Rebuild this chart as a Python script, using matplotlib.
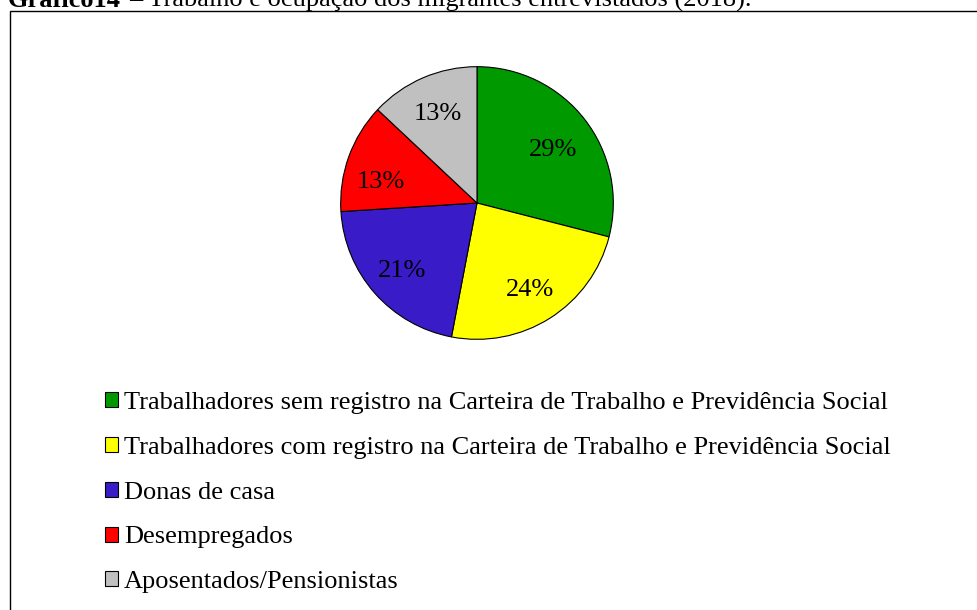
import matplotlib
matplotlib.use("Agg")
import matplotlib.pyplot as plt
import numpy as np
from matplotlib.patches import Rectangle

categories = [
    "Trabalhadores sem registro na Carteira de Trabalho e Previdência Social",
    "Trabalhadores com registro na Carteira de Trabalho e Previdência Social",
    "Donas de casa",
    "Desempregados",
    "Aposentados/Pensionistas",
]
values = [29, 24, 21, 13, 13]
colors = ["#009900", "#FFFF00", "#3A1BC8", "#FF0000", "#C0C0C0"]
title_bold = "Gráfico14"
title_rest = "– Trabalho e ocupação dos migrantes entrevistados (2018)."

# label placement style (radial distance, angular nudge in degrees)
label_r = [0.69, 0.73, 0.73, 0.73, 0.73]
label_dang = [-2, 0, 0, 6, 0]

W, H = 978, 610
plt.rcParams['font.family'] = ['Liberation Serif', 'DejaVu Serif']
fig = plt.figure(figsize=(W / 100, H / 100), dpi=100)

# frame
frame = Rectangle((9.5 / W, -0.1), 1.2, 1 - 11.5 / H + 0.1, transform=fig.transFigure,
                  fill=False, edgecolor="black", linewidth=1.0)
fig.patches.append(frame)

# title (partially clipped at top, as in the reference)
fig.text(8 / W, 1 - 7 / H, title_bold, fontsize=19, fontweight="bold", va="baseline", ha="left")
fig.text(129 / W, 1 - 7 / H, title_rest, fontsize=19, va="baseline", ha="left")

# pie
cx, cy, r = 477, 203, 137
ax = fig.add_axes([(cx - r) / W, (H - cy - r) / H, 2 * r / W, 2 * r / H])
wedges, texts, autotexts = ax.pie(values, colors=colors, startangle=90, counterclock=False,
                                  autopct='%.0f%%', pctdistance=0.73,
                                  wedgeprops=dict(edgecolor="black", linewidth=0.8),
                                  textprops=dict(fontsize=19, color="black"))
for w, t, lr, da in zip(wedges, autotexts, label_r, label_dang):
    mid = np.deg2rad((w.theta1 + w.theta2) / 2 + da)
    t.set_position((lr * np.cos(mid), lr * np.sin(mid)))
    t.set_va("center_baseline")
ax.set_xlim(-1.005, 1.005)
ax.set_ylim(-1.005, 1.005)
ax.set_aspect("equal")

# legend
leg = fig.legend(wedges, categories, loc="upper left",
                 bbox_to_anchor=(105 / W, 1 - 392 / H), frameon=False, borderaxespad=0,
                 fontsize=19, handlelength=0.5, handleheight=0.5, handletextpad=0.22,
                 labelspacing=0.865, borderpad=0)

fig.savefig("out.png", dpi=100)
